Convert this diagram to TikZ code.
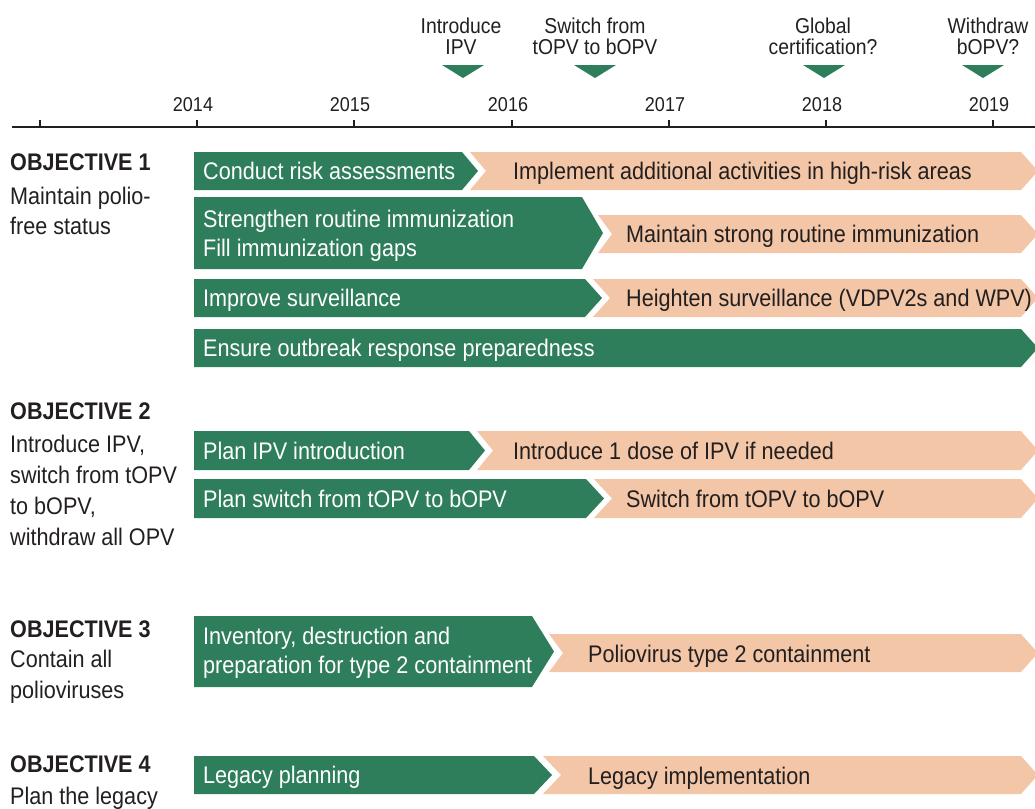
\documentclass[tikz,border=0pt]{standalone}
\usepackage{fontspec}
\setmainfont{Liberation Sans}[FakeStretch=0.9]
\definecolor{polgreen}{RGB}{47,126,91}
\definecolor{polpeach}{RGB}{242,198,166}
\definecolor{inkgrey}{RGB}{35,31,32}
% green bar: x start, x flat end, y top, y bottom, x tip
\newcommand{\greenbar}[5]{\fill[polgreen] (#1,#3) -- (#2,#3) -- (#5,{(#3+#4)/2}) -- (#2,#4) -- (#1,#4) -- cycle;}
% peach bar: x outer, x flat end, y top, y bottom, x notch, x tip
\newcommand{\peachbar}[6]{\fill[polpeach] (#1,#3) -- (#2,#3) -- (#6,{(#3+#4)/2}) -- (#2,#4) -- (#1,#4) -- (#5,{(#3+#4)/2}) -- cycle;}

\begin{document}
\begin{tikzpicture}[x=1pt,y=-1pt]
\tikzset{oneline/.style={text height=17pt, text depth=0pt},
  ingreen/.style={anchor=west, inner sep=0pt, text=white, align=left, font=\fontsize{24}{29}\selectfont},
  inpeach/.style={anchor=west, inner sep=0pt, text=inkgrey, oneline, font=\fontsize{24}{29}\selectfont},
  objtitle/.style={anchor=west, inner sep=0pt, text=inkgrey, oneline, font=\fontsize{24}{30}\selectfont\bfseries},
  objtext/.style={anchor=west, inner sep=0pt, text=inkgrey, align=left, font=\fontsize{24}{31}\selectfont},
  yearlbl/.style={inner sep=0pt, text=inkgrey, text height=14pt, text depth=0pt, font=\fontsize{20}{20}\selectfont},
  eventlbl/.style={inner sep=0pt, text=inkgrey, align=center, font=\fontsize{21.5}{21}\selectfont}}
\useasboundingbox (0,0) rectangle (1035,808);
\clip (0,0) rectangle (1035,808);

% time axis
\draw[inkgrey, line width=2.4pt] (12,127) -- (1035,127);
\draw[inkgrey, line width=1.2pt] (40,120) -- (40,127);
\foreach \yr/\xx in {2014/197, 2015/354, 2016/512, 2017/669, 2018/826, 2019/993} {
  \draw[inkgrey, line width=1.2pt] (\xx,120) -- (\xx,127);
  \node[yearlbl] (y\yr) at (\xx-4,104) {\yr};
}

% events
\foreach \xx in {463, 595, 824, 983}
  \fill[polgreen] (\xx-21,65) -- (\xx+21,65) -- (\xx,78) -- cycle;
\node[eventlbl] (ipv) at (461,36) {Introduce\\IPV};
\node[eventlbl] (switch) at (595,36) {Switch from\\tOPV to bOPV};
\node[eventlbl] (cert) at (823,36) {Global\\certification?};
\node[eventlbl] (withdraw) at (988,36) {Withdraw\\bOPV?};

% objective 1
\node[objtitle] (obj1) at (10,162) {OBJECTIVE 1};
\node[objtext, font=\fontsize{24}{30}\selectfont] (obj1txt) at (10,211) {Maintain polio-\\free status};
\greenbar{194}{462}{152}{190}{478}
\peachbar{470}{1021}{152}{190}{486}{1038}
\node[ingreen, oneline] (risk) at (203,171) {Conduct risk assessments};
\node[inpeach] (highrisk) at (513,171) {Implement additional activities in high-risk areas};
\greenbar{194}{582}{197}{269}{603}
\peachbar{598}{1021}{215}{253}{612}{1038}
\node[ingreen] (routine) at (203,236) {Strengthen routine immunization\\Fill immunization gaps};
\node[inpeach] (strong) at (626,234) {Maintain strong routine immunization};
\greenbar{194}{585}{279}{317}{602}
\peachbar{593}{1021}{279}{317}{610}{1038}
\node[ingreen, oneline] (surv) at (203,298) {Improve surveillance};
\node[inpeach] (heighten) at (626,298) {Heighten surveillance (VDPV2s and WPV)};
\greenbar{194}{1021}{329}{367}{1038}
\node[ingreen, oneline] (outbreak) at (203,348) {Ensure outbreak response preparedness};

% objective 2
\node[objtitle] (obj2) at (10,411) {OBJECTIVE 2};
\node[objtext] (obj2txt) at (10,490) {Introduce IPV,\\switch from tOPV\\to bOPV,\\withdraw all OPV};
\greenbar{194}{469}{431}{470}{485}
\peachbar{477}{1021}{431}{470}{493}{1038}
\node[ingreen, oneline] (planipv) at (203,451) {Plan IPV introduction};
\node[inpeach] (onedose) at (513,451) {Introduce 1 dose of IPV if needed};
\greenbar{194}{586}{479}{518}{604}
\peachbar{594}{1021}{479}{518}{612}{1038}
\node[ingreen, oneline] (planswitch) at (203,499) {Plan switch from tOPV to bOPV};
\node[inpeach] (doswitch) at (626,499) {Switch from tOPV to bOPV};

% objective 3
\node[objtitle] (obj3) at (10,629) {OBJECTIVE 3};
\node[objtext] (obj3txt) at (10,677) {Contain all\\polioviruses};
\greenbar{194}{532}{616}{687}{554}
\peachbar{549}{1021}{634}{672}{563}{1038}
\node[ingreen] (inventory) at (203,653) {Inventory, destruction and\\preparation for type 2 containment};
\node[inpeach] (contain) at (588,654) {Poliovirus type 2 containment};

% objective 4
\node[objtitle] (obj4) at (10,764) {OBJECTIVE 4};
\node[objtext, oneline] (obj4txt) at (10,796) {Plan the legacy};
\greenbar{194}{534}{756}{794}{552}
\peachbar{543}{1021}{756}{794}{561}{1038}
\node[ingreen, oneline] (legplan) at (203,775) {Legacy planning};
\node[inpeach] (legimpl) at (588,776) {Legacy implementation};
\end{tikzpicture}
\end{document}
